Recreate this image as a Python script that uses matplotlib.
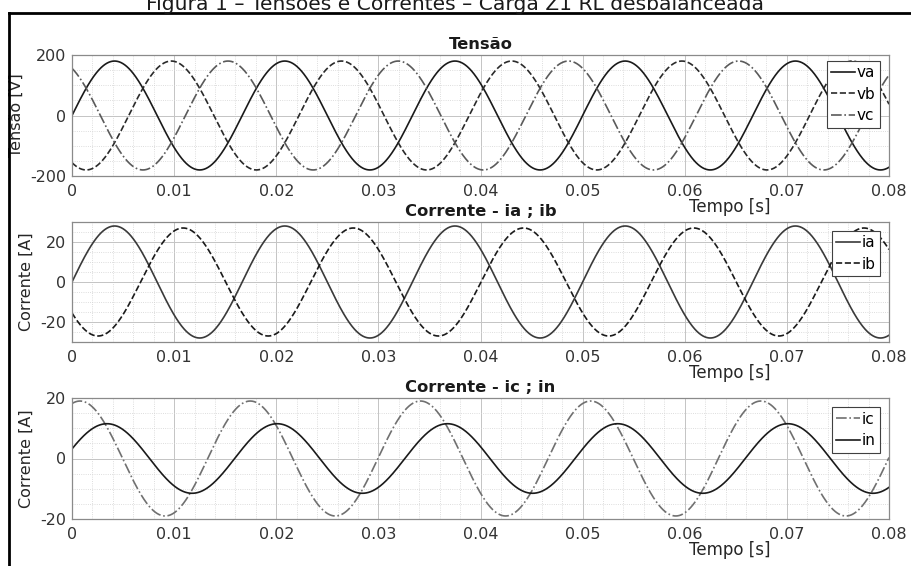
import numpy as np
import matplotlib
matplotlib.use('Agg')
import matplotlib.pyplot as plt
from matplotlib.lines import Line2D
from matplotlib.ticker import MultipleLocator

plt.rcParams['font.family'] = ['DejaVu Sans']
plt.rcParams['axes.unicode_minus'] = False

# sinais trifasicos em 60 Hz (amplitude de pico, fase em graus)
freq = 60.0
t_final = 0.08

tensao_nomes = ['va', 'vb', 'vc']
tensao_amp = [180, 180, 180]
tensao_fase = [0, -120, 120]

corr_ab_nomes = ['ia', 'ib']
corr_ab_amp = [28, 27]
corr_ab_fase = [0, -145]

corr_cn_nomes = ['ic', 'in']
corr_cn_amp = [19, 11.5]
corr_cn_fase = [73, 16]

x_ticks = [0, 0.01, 0.02, 0.03, 0.04, 0.05, 0.06, 0.07, 0.08]

t = np.linspace(0, t_final, 3000)
w = 2 * np.pi * freq


def onda(amp, fase):
    return amp * np.sin(w * t + np.deg2rad(fase))


fig = plt.figure(figsize=(9.11, 5.66), dpi=100)
W, H = 911, 566

def eixo(x0, y_top, x1, y_bot):
    return fig.add_axes([x0 / W, 1 - y_bot / H, (x1 - x0) / W, (y_bot - y_top) / H])

ax1 = eixo(72, 55, 889, 176)
ax2 = eixo(72, 222, 889, 342)
ax3 = eixo(72, 398, 889, 519)

estilo_v = [('-', '#1a1a1a'), ('--', '#2a2a2a'), ('-.', '#5a5a5a')]
for nome, a, f, (ls, c) in zip(tensao_nomes, tensao_amp, tensao_fase, estilo_v):
    ax1.plot(t, onda(a, f), ls=ls, color=c, lw=1.2, label=nome)

estilo_ab = [('-', '#3a3a3a'), ('--', '#1a1a1a')]
for nome, a, f, (ls, c) in zip(corr_ab_nomes, corr_ab_amp, corr_ab_fase, estilo_ab):
    ax2.plot(t, onda(a, f), ls=ls, color=c, lw=1.2, label=nome)

estilo_cn = [('-.', '#707070'), ('-', '#1a1a1a')]
for nome, a, f, (ls, c) in zip(corr_cn_nomes, corr_cn_amp, corr_cn_fase, estilo_cn):
    ax3.plot(t, onda(a, f), ls=ls, color=c, lw=1.2, label=nome)

config = [
    (ax1, (-200, 200), [-200, 0, 200], 50, 'Tensão', 'Tensão [V]', 0.953),
    (ax2, (-30, 30), [-20, 0, 20], 5, 'Corrente - ia ; ib', 'Corrente [A]', 0.9275),
    (ax3, (-20, 20), [-20, 0, 20], 5, 'Corrente - ic ; in', 'Corrente [A]', 0.926),
]

for ax, ylim, yt, ymin, titulo, ylab, leg_top in config:
    ax.set_xlim(0, t_final)
    ax.set_ylim(*ylim)
    ax.set_xticks(x_ticks)
    ax.set_xticklabels(['0'] + ['%.2f' % v for v in x_ticks[1:]])
    ax.set_yticks(yt)
    ax.xaxis.set_minor_locator(MultipleLocator(0.002))
    ax.yaxis.set_minor_locator(MultipleLocator(ymin))
    ax.grid(True, which='major', color='#c4c4c4', lw=0.7, ls='-')
    ax.grid(True, which='minor', color='#d2d2d2', lw=0.6, ls=':')
    ax.set_axisbelow(True)
    ax.tick_params(which='both', length=0, labelsize=11.5, colors='#333333', pad=6)
    ax.tick_params(axis='y', pad=4)
    for s in ax.spines.values():
        s.set_color('#8a8a8a')
        s.set_linewidth(0.9)
    ax.set_title(titulo, fontsize=11.8, fontweight='bold', color='#1a1a1a', pad=4)
    ax.set_ylabel(ylab, fontsize=11.5, color='#262626', labelpad=5)
    ax.text(0.805, -0.26, 'Tempo [s]', transform=ax.transAxes, ha='center',
            va='center', fontsize=12, color='#262626')
    leg = ax.legend(loc='upper right', bbox_to_anchor=(0.989, leg_top), fontsize=11,
                    frameon=True, fancybox=False, framealpha=1, edgecolor='#404040',
                    borderpad=0.3, labelspacing=0.42, handlelength=1.55,
                    handletextpad=0.1, borderaxespad=0)
    leg.get_frame().set_linewidth(0.8)

# titulo da figura (cortado no topo) e moldura
fig.text(0.5, 1 - 9.5 / H, 'Figura 1 – Tensões e Correntes – Carga Z1 RL desbalanceada',
         ha='center', va='baseline', fontsize=14.6, color='#1a1a1a')
fig.add_artist(Line2D([8.5 / W, 8.5 / W], [0, 1 - 13 / H], color='black', lw=2))
fig.add_artist(Line2D([8.5 / W, 1.0], [1 - 13 / H, 1 - 13 / H], color='black', lw=2))

fig.savefig('out.png', dpi=100)
